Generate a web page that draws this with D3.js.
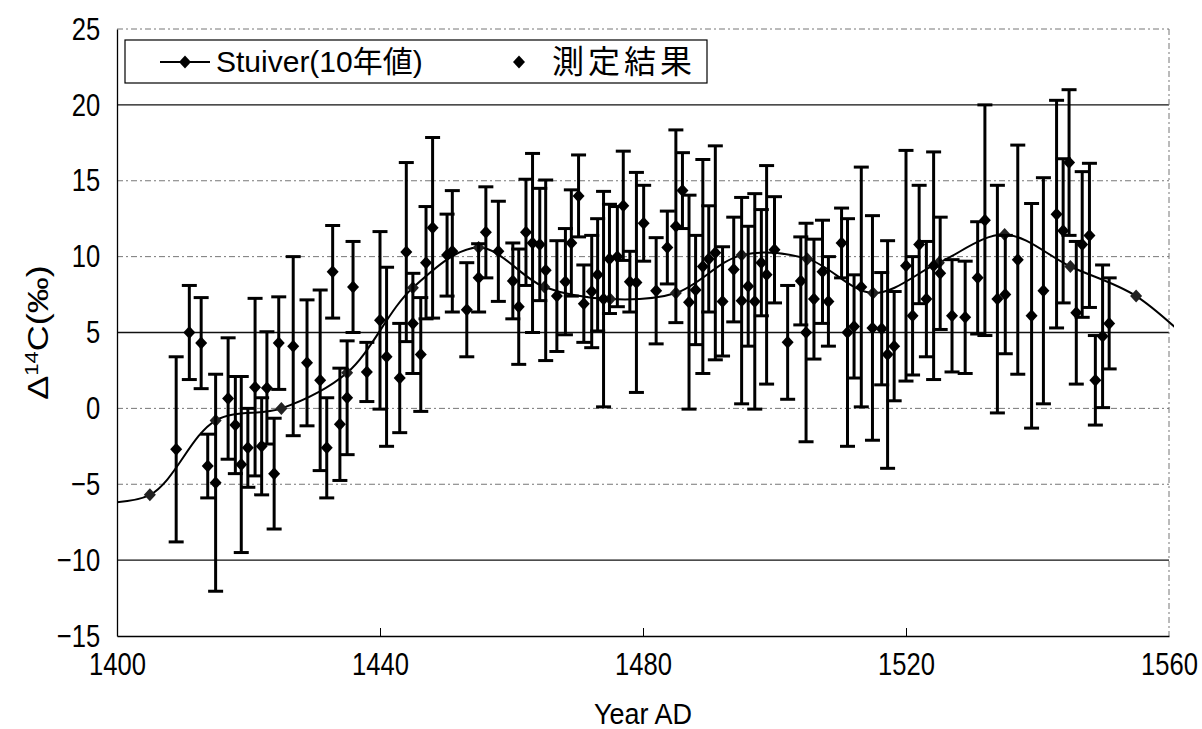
<!DOCTYPE html>
<html>
<head>
<meta charset="utf-8">
<script src="https://cdn.jsdelivr.net/npm/d3@7"></script>
<style>
  body { margin: 0; background: #fff; }
  text { font-family: "Liberation Sans", Arial, "Noto Sans CJK JP", sans-serif; fill: #000; }
</style>
</head>
<body>
<div id="chart"></div>
<script>
// Stuiver decadal values
var stuiverYear = [1395, 1405, 1415, 1425, 1435, 1445, 1455, 1465, 1475, 1485, 1495, 1505, 1515, 1525, 1535, 1545, 1555, 1565]
var stuiverVal  = [-6.2, -5.7, -0.8, 0.0, 2.35, 7.95, 10.6, 8.0, 7.2, 7.6, 10.1, 9.85, 7.6, 9.6, 11.45, 9.35, 7.4, 3.7]

// measurements (year, value, +/- error)
var measYear = [1409, 1411, 1412.8, 1413.8, 1415, 1416.9, 1418, 1418.9, 1419.9, 1421, 1422, 1422.8, 1423.9, 1424.6,
  1426.8, 1428.9, 1430.9, 1431.9, 1432.8, 1433.9, 1435, 1435.9, 1438, 1440, 1441, 1443, 1444, 1445, 1446.2, 1447,
  1448, 1450.2, 1451, 1453.2, 1455, 1456.1, 1458, 1460.2, 1461.1, 1462.2, 1463.2, 1464.3, 1465.2, 1466.9, 1468.2,
  1469.1, 1470.2, 1471, 1472.2, 1473.1, 1474, 1474.9, 1476.1, 1477, 1478, 1479, 1480.1, 1482, 1483.7, 1485, 1486,
  1487, 1488, 1489.1, 1490, 1491, 1492.1, 1493.8, 1495, 1496, 1497, 1498, 1498.8, 1500, 1502, 1504, 1504.8, 1506,
  1507.3, 1508.2, 1510.2, 1511.1, 1512.1, 1513.2, 1514.9, 1516.3, 1517.2, 1518.2, 1520, 1521, 1522, 1523.1, 1524.2,
  1525.2, 1527, 1529, 1530.9, 1532, 1533.9, 1535.1, 1537, 1539.1, 1540.9, 1542.9, 1543.9, 1544.8, 1545.9, 1546.8,
  1547.9, 1548.8, 1549.9, 1550.9]
var measVal = [-2.7, 5.0, 4.3, -3.8, -4.9, 0.65, -1.1, -3.7, -2.6, 1.4, -2.5, 1.35, -4.3, 4.3,
  4.1, 3.0, 1.85, -2.6, 9.0, -1.05, 0.7, 8.0, 2.4, 5.8, 3.4, 2.0, 10.3, 5.6, 3.55, 9.6,
  11.9, 10.1, 10.35, 6.5, 8.6, 11.6, 10.35, 8.4, 6.7, 11.6, 10.9, 10.8, 9.1, 7.4, 8.35,
  10.9, 14.0, 6.9, 7.7, 8.8, 7.2, 9.85, 10.0, 13.35, 8.35, 8.3, 12.2, 7.75, 10.6, 12.0, 14.35,
  7.0, 7.8, 9.35, 9.85, 10.25, 7.05, 9.15, 7.1, 8.05, 7.05, 9.6, 8.8, 10.45, 4.35, 8.4, 5.0, 7.2,
  9.0, 7.05, 10.9, 5.0, 5.4, 8.0, 5.3, 5.25, 3.55, 4.1, 9.4, 6.1, 10.8, 7.2, 9.4,
  8.9, 6.1, 6.0, 8.6, 12.4, 7.2, 7.5, 9.8, 6.1, 7.75, 12.8, 11.7, 16.2, 6.3, 10.8,
  11.4, 1.85, 4.75, 5.6]
var measErr = [6.1, 3.1, 3.0, 2.1, 7.15, 4.0, 3.2, 5.8, 2.6, 5.85, 3.2, 3.7, 3.65, 3.05,
  5.9, 4.15, 5.95, 3.3, 3.05, 3.7, 3.75, 3.0, 1.95, 5.85, 5.9, 3.6, 5.9, 3.3, 3.75, 3.7,
  5.95, 2.7, 4.0, 3.1, 2.25, 3.0, 3.3, 2.5, 3.8, 3.5, 5.9, 3.7, 5.95, 3.65, 3.5,
  3.5, 2.7, 2.55, 3.7, 3.7, 7.1, 3.6, 3.3, 3.6, 2.0, 7.25, 2.5, 3.5, 2.4, 6.35, 2.5,
  7.05, 3.6, 7.05, 3.5, 7.05, 3.6, 3.45, 6.8, 3.95, 7.1, 3.5, 7.2, 3.5, 3.75, 2.9, 7.2, 3.95,
  3.4, 2.95, 2.3, 7.5, 3.4, 7.9, 7.4, 3.7, 7.5, 3.6, 7.6, 3.9, 3.9, 3.8, 7.5,
  3.7, 3.7, 3.7, 3.7, 7.6, 7.5, 3.9, 7.55, 7.4, 7.45, 7.5, 4.75, 4.8, 4.7, 4.8,
  4.75, 2.95, 4.7, 3.0]

var xTicks = [1400, 1440, 1480, 1520, 1560]
var yTicks = [-15, -10, -5, 0, 5, 10, 15, 20, 25]
var solidGrid = [20, 5, -10]

var W = 1202, H = 729
var margin = {left: 117, top: 29, right: 33, bottom: 93}
var iw = W - margin.left - margin.right, ih = H - margin.top - margin.bottom

var svg = d3.select("#chart").append("svg").attr("width", W).attr("height", H)
var g = svg.append("g").attr("transform", "translate(" + margin.left + "," + margin.top + ")")

var x = d3.scaleLinear().domain([1400, 1560]).range([0, iw])
var y = d3.scaleLinear().domain([-15, 25]).range([ih, 0])

// grid
g.selectAll(".grid").data(yTicks.filter(function(d){ return d > -15 })).enter().append("line")
  .attr("x1", 0).attr("x2", iw).attr("y1", d => y(d)).attr("y2", d => y(d))
  .attr("stroke", d => solidGrid.indexOf(d) >= 0 ? "#111" : "#777")
  .attr("stroke-width", d => solidGrid.indexOf(d) >= 0 ? 1.3 : 1)
  .attr("stroke-dasharray", d => solidGrid.indexOf(d) >= 0 ? null : "6,3,2,3")

// right border
g.append("line").attr("x1", iw).attr("x2", iw).attr("y1", 0).attr("y2", ih)
  .attr("stroke", "#777").attr("stroke-dasharray", "6,3,2,3")

// axes (tick labels a bit condensed like the original)
var xAxis = d3.axisBottom(x).tickValues(xTicks).tickSize(0).tickPadding(16).tickFormat(d3.format("d"))
var gx = g.append("g").attr("transform", "translate(0," + ih + ")").call(xAxis)
gx.select(".domain").attr("stroke", "#000").attr("stroke-width", 1.3)
gx.selectAll("text").attr("font-size", 32).attr("font-family", null).attr("transform", "scale(0.8,1)")
gx.selectAll(".tick").filter(d => d > 1400 && d < 1560).append("line")
  .attr("y1", 0).attr("y2", -8).attr("stroke", "#000")

var yAxis = d3.axisLeft(y).tickValues(yTicks).tickSize(0).tickPadding(21)
var gy = g.append("g").call(yAxis)
gy.select(".domain").attr("stroke", "#000").attr("stroke-width", 1.3)
gy.selectAll("text").attr("font-size", 32).attr("font-family", null).attr("transform", "scale(0.8,1)")

// axis titles
svg.append("text").attr("transform", "translate(" + (margin.left + iw / 2) + ",724) scale(0.9,1)")
  .attr("text-anchor", "middle").attr("font-size", 30).text("Year AD")
var yt = svg.append("text").attr("transform", "translate(48," + (margin.top + ih / 2) + ") rotate(-90) scale(1,0.8)")
  .attr("text-anchor", "middle").attr("font-size", 36)
yt.append("tspan").text("Δ")
yt.append("tspan").attr("font-size", 22).attr("dy", -13).text("14")
yt.append("tspan").attr("dy", 13).text("C(‰)")

var diamond = "M0,-6.5L6,0L0,6.5L-6,0Z"

// clip for the smooth curve
svg.append("defs").append("clipPath").attr("id", "clip").append("rect")
  .attr("x", 0).attr("y", 0).attr("width", iw + 5).attr("height", ih)

var stuiver = stuiverYear.map(function(d, i){ return [d, stuiverVal[i]] })
var line = d3.line().x(d => x(d[0])).y(d => y(d[1])).curve(d3.curveCatmullRom.alpha(0.5))
g.append("path").datum(stuiver).attr("clip-path", "url(#clip)")
  .attr("d", line).attr("fill", "none").attr("stroke", "#000").attr("stroke-width", 2)

g.selectAll(".smark").data(stuiver.filter(d => d[0] >= 1400 && d[0] <= 1560)).enter().append("path")
  .attr("d", diamond).attr("transform", d => "translate(" + x(d[0]) + "," + y(d[1]) + ")").attr("fill", "#222")

// measurements with error bars
var meas = measYear.map(function(d, i){ return {yr: d, v: measVal[i], e: measErr[i]} })
var eb = g.selectAll(".eb").data(meas).enter().append("g").attr("stroke", "#000").attr("stroke-width", 3)
eb.append("line").attr("x1", d => x(d.yr)).attr("x2", d => x(d.yr))
  .attr("y1", d => y(d.v + d.e)).attr("y2", d => y(d.v - d.e))
eb.append("line").attr("x1", d => x(d.yr) - 7.5).attr("x2", d => x(d.yr) + 7.5)
  .attr("y1", d => y(d.v + d.e)).attr("y2", d => y(d.v + d.e))
eb.append("line").attr("x1", d => x(d.yr) - 7.5).attr("x2", d => x(d.yr) + 7.5)
  .attr("y1", d => y(d.v - d.e)).attr("y2", d => y(d.v - d.e))

g.selectAll(".mmark").data(meas).enter().append("path")
  .attr("d", diamond).attr("transform", d => "translate(" + x(d.yr) + "," + y(d.v) + ")").attr("fill", "#000")

// legend
var lg = svg.append("g")
lg.append("rect").attr("x", 125).attr("y", 40).attr("width", 582).attr("height", 43)
  .attr("fill", "#fff").attr("stroke", "#000").attr("stroke-width", 1.2)
lg.append("line").attr("x1", 160).attr("x2", 210).attr("y1", 62).attr("y2", 62)
  .attr("stroke", "#000").attr("stroke-width", 2)
lg.append("path").attr("d", diamond).attr("transform", "translate(185,62)")
lg.append("text").attr("x", 216).attr("y", 72).attr("font-size", 30).text("Stuiver(10年値)")
lg.append("path").attr("d", diamond).attr("transform", "translate(519,62)")
lg.append("text").attr("x", 552).attr("y", 73).attr("font-size", 32).attr("letter-spacing", 4).text("測定結果")
</script>
</body>
</html>
